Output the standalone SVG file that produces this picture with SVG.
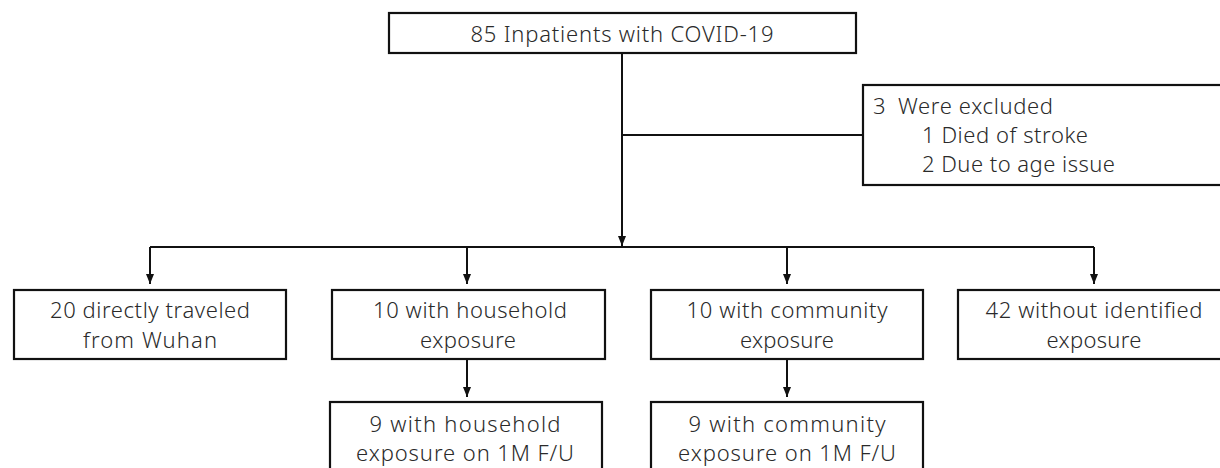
<svg xmlns="http://www.w3.org/2000/svg" width="1220" height="468" viewBox="0 0 1220 468">
<defs>
<style>
.box{fill:#fff;stroke:#111;stroke-width:2.2}
.ln{fill:none;stroke:#111;stroke-width:2}
text{font-family:"Noto Sans","Liberation Sans",sans-serif;font-size:22px;font-weight:350;fill:#2a2a2a}
.c{text-anchor:middle}
</style>
<marker id="ah" viewBox="0 0 10 10" refX="10" refY="5" markerWidth="10" markerHeight="10" markerUnits="userSpaceOnUse" orient="auto">
<path d="M0,1 L10,5 L0,9 Z" fill="#111"/>
</marker>
</defs>
<g id="connectors">
<line class="ln" x1="622" y1="53" x2="622" y2="246" marker-end="url(#ah)"/>
<line class="ln" x1="622" y1="135" x2="863" y2="135"/>
<line class="ln" x1="150" y1="247" x2="1094" y2="247"/>
<line class="ln" x1="150" y1="247" x2="150" y2="284" marker-end="url(#ah)"/>
<line class="ln" x1="467" y1="247" x2="467" y2="284" marker-end="url(#ah)"/>
<line class="ln" x1="787" y1="247" x2="787" y2="284" marker-end="url(#ah)"/>
<line class="ln" x1="1094" y1="247" x2="1094" y2="284" marker-end="url(#ah)"/>
<line class="ln" x1="467" y1="359" x2="467" y2="397" marker-end="url(#ah)"/>
<line class="ln" x1="787" y1="359" x2="787" y2="397" marker-end="url(#ah)"/>
</g>
<g id="n_top">
<rect class="box" x="389" y="13" width="467" height="40"/>
<text class="c" x="622" y="42" textLength="303">85 Inpatients with COVID-19</text>
</g>
<g id="n_excluded">
<rect class="box" x="863" y="85" width="370" height="100"/>
<text x="873" y="114">3</text>
<text x="898" y="114" textLength="155">Were excluded</text>
<text x="922" y="143" textLength="166">1 Died of stroke</text>
<text x="922" y="172" textLength="193">2 Due to age issue</text>
</g>
<g id="n_wuhan">
<rect class="box" x="14" y="290" width="272" height="69"/>
<text class="c" x="150" y="318" textLength="200">20 directly traveled</text>
<text class="c" x="150" y="348" textLength="134">from Wuhan</text>
</g>
<g id="n_household">
<rect class="box" x="332" y="290" width="273" height="69"/>
<text class="c" x="470" y="318" textLength="194">10 with household</text>
<text class="c" x="468" y="348" textLength="96">exposure</text>
</g>
<g id="n_community">
<rect class="box" x="651" y="290" width="272" height="69"/>
<text class="c" x="787" y="318" textLength="201">10 with community</text>
<text class="c" x="787" y="348" textLength="94">exposure</text>
</g>
<g id="n_none">
<rect class="box" x="958" y="290" width="274" height="69"/>
<text class="c" x="1094" y="318" textLength="217">42 without identified</text>
<text class="c" x="1094" y="348" textLength="95">exposure</text>
</g>
<g id="n_household_fu">
<rect class="box" x="330" y="402" width="272" height="80"/>
<text class="c" x="465" y="432" textLength="191">9 with household</text>
<text class="c" x="465" y="461" textLength="218">exposure on 1M F/U</text>
</g>
<g id="n_community_fu">
<rect class="box" x="651" y="402" width="272" height="80"/>
<text class="c" x="787" y="432" textLength="197">9 with community</text>
<text class="c" x="787" y="461" textLength="218">exposure on 1M F/U</text>
</g>
</svg>
